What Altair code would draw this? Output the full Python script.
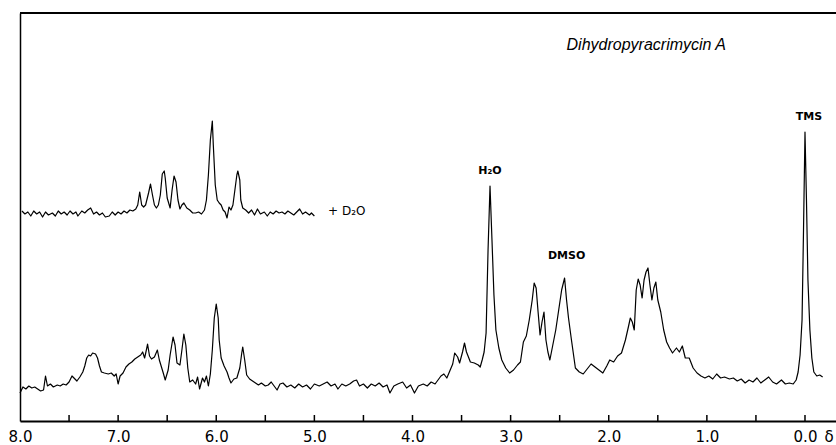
import altair as alt
import pandas as pd

# ---- lower trace (sample in DMSO) : chemical shift (ppm) and signal (arbitrary units)
lower_ppm = [8.00, 7.97, 7.94, 7.91, 7.88, 7.85, 7.82, 7.79, 7.76, 7.74, 7.72, 7.69, 7.66, 7.62, 7.59, 7.56, 7.53, 7.50,
             7.47, 7.45, 7.42, 7.39, 7.36, 7.34, 7.32, 7.30, 7.28, 7.26, 7.23, 7.21, 7.19, 7.17, 7.14, 7.10, 7.07, 7.04,
             7.02, 7.00, 6.98, 6.95, 6.92, 6.89, 6.86, 6.83, 6.80, 6.77, 6.75, 6.73, 6.71, 6.70, 6.68, 6.66, 6.63, 6.60,
             6.58, 6.54, 6.52, 6.49, 6.47, 6.44, 6.42, 6.40, 6.37, 6.35, 6.33, 6.31, 6.29, 6.27, 6.24, 6.21, 6.19, 6.17,
             6.14, 6.12, 6.10, 6.08, 6.06, 6.04, 6.02, 6.00, 5.98, 5.97, 5.95, 5.92, 5.89, 5.87, 5.85, 5.82, 5.79, 5.76,
             5.74, 5.73, 5.71, 5.69, 5.66, 5.63, 5.60, 5.57, 5.54, 5.50, 5.47, 5.44, 5.41, 5.38, 5.35, 5.32, 5.28, 5.24,
             5.20, 5.16, 5.12, 5.08, 5.04, 5.00, 4.95, 4.91, 4.87, 4.83, 4.79, 4.76, 4.72, 4.68, 4.64, 4.60, 4.57, 4.54,
             4.50, 4.46, 4.42, 4.38, 4.34, 4.30, 4.26, 4.23, 4.19, 4.15, 4.10, 4.06, 4.02, 3.98, 3.94, 3.89, 3.85, 3.81,
             3.77, 3.74, 3.71, 3.68, 3.65, 3.62, 3.59, 3.57, 3.54, 3.52, 3.49, 3.47, 3.45, 3.41, 3.37, 3.33, 3.31, 3.29,
             3.27, 3.25, 3.23, 3.21, 3.19, 3.17, 3.15, 3.12, 3.09, 3.05, 3.01, 2.97, 2.93, 2.90, 2.87, 2.84, 2.81, 2.78,
             2.76, 2.74, 2.72, 2.70, 2.68, 2.66, 2.64, 2.62, 2.60, 2.57, 2.54, 2.51, 2.48, 2.45, 2.43, 2.41, 2.38, 2.34,
             2.30, 2.26, 2.22, 2.18, 2.14, 2.10, 2.06, 2.02, 1.99, 1.95, 1.91, 1.87, 1.83, 1.80, 1.78, 1.76, 1.74, 1.72,
             1.70, 1.68, 1.66, 1.64, 1.62, 1.60, 1.58, 1.56, 1.54, 1.52, 1.50, 1.47, 1.44, 1.41, 1.38, 1.35, 1.31, 1.28,
             1.25, 1.22, 1.18, 1.14, 1.10, 1.06, 1.02, 0.98, 0.94, 0.90, 0.86, 0.82, 0.77, 0.73, 0.69, 0.65, 0.61, 0.57,
             0.53, 0.49, 0.45, 0.41, 0.37, 0.33, 0.29, 0.24, 0.20, 0.16, 0.12, 0.09, 0.07, 0.05, 0.03, 0.015, 0.00,
             -0.015, -0.03, -0.05, -0.07, -0.09, -0.12, -0.15, -0.18]
lower_int = [28, 34, 32, 35, 33, 34, 32, 30, 31, 45, 35, 37, 34, 36, 35, 37, 36, 39,
             45, 43, 40, 44, 49, 55, 63, 66, 65, 68, 67, 63, 55, 49, 48, 47, 48, 45,
             47, 37, 45, 48, 54, 57, 59, 62, 64, 66, 69, 63, 72, 77, 65, 62, 64, 71,
             61, 48, 41, 51, 66, 84, 76, 58, 56, 71, 87, 76, 53, 39, 41, 37, 44, 32,
             43, 39, 45, 35, 47, 71, 103, 117, 103, 81, 63, 55, 49, 43, 38, 42, 43, 53,
             68, 74, 61, 46, 42, 40, 38, 36, 38, 35, 36, 39, 35, 31, 37, 38, 34, 36,
             33, 37, 34, 36, 32, 37, 35, 37, 39, 35, 37, 32, 37, 35, 37, 40, 41, 35,
             37, 33, 37, 35, 38, 34, 36, 28, 35, 37, 39, 33, 36, 28, 35, 37, 35, 39,
             37, 41, 45, 47, 43, 50, 57, 68, 64, 58, 69, 78, 69, 59, 58, 56, 54, 61,
             69, 88, 171, 235, 181, 126, 91, 73, 61, 53, 48, 51, 56, 59, 79, 85, 101, 121,
             138, 133, 109, 86, 99, 109, 81, 69, 61, 76, 91, 111, 131, 143, 121, 103, 81, 53,
             49, 47, 52, 57, 54, 51, 48, 55, 61, 59, 65, 68, 81, 94, 103, 99, 91, 131,
             142, 136, 123, 141, 149, 153, 136, 121, 133, 139, 121, 109, 91, 79, 73, 68, 73, 69,
             75, 63, 63, 53, 48, 45, 43, 45, 42, 47, 43, 44, 42, 43, 40, 42, 38, 41,
             39, 43, 38, 41, 44, 39, 37, 41, 37, 38, 37, 41, 49, 66, 101, 191, 289,
             221, 141, 91, 63, 49, 45, 46, 44]

# ---- upper trace (after D2O exchange), offset upward on the same chart
upper_ppm = [7.98, 7.95, 7.92, 7.89, 7.86, 7.83, 7.80, 7.77, 7.74, 7.71, 7.67, 7.64, 7.61, 7.58, 7.55, 7.52, 7.49,
             7.46, 7.43, 7.41, 7.37, 7.34, 7.31, 7.28, 7.25, 7.22, 7.19, 7.16, 7.13, 7.09, 7.06, 7.03, 7.00, 6.97,
             6.94, 6.91, 6.88, 6.85, 6.82, 6.80, 6.78, 6.76, 6.74, 6.72, 6.69, 6.67, 6.65, 6.63, 6.61, 6.59, 6.57,
             6.55, 6.53, 6.52, 6.50, 6.47, 6.45, 6.43, 6.41, 6.39, 6.37, 6.35, 6.33, 6.30, 6.27, 6.24, 6.21, 6.18,
             6.15, 6.12, 6.10, 6.08, 6.06, 6.04, 6.03, 6.01, 5.99, 5.97, 5.95, 5.93, 5.91, 5.89, 5.87, 5.85, 5.83,
             5.81, 5.79, 5.78, 5.76, 5.75, 5.73, 5.70, 5.67, 5.64, 5.61, 5.58, 5.55, 5.51, 5.48, 5.45, 5.42, 5.39,
             5.36, 5.33, 5.30, 5.27, 5.24, 5.21, 5.18, 5.15, 5.12, 5.09, 5.05, 5.03, 5.00]
upper_int = [210, 207, 209, 205, 210, 207, 209, 204, 209, 206, 208, 205, 210, 207, 209, 206, 210,
             207, 209, 205, 210, 208, 211, 213, 207, 209, 206, 208, 204, 205, 209, 206, 209, 207,
             210, 208, 211, 210, 212, 216, 229, 216, 214, 216, 228, 237, 226, 216, 213, 216, 226,
             247, 250, 243, 223, 213, 231, 245, 239, 221, 212, 216, 218, 213, 211, 208, 208, 209,
             207, 211, 221, 246, 281, 300, 276, 236, 221, 218, 216, 211, 209, 203, 214, 211, 216,
             231, 246, 250, 241, 221, 213, 211, 208, 211, 206, 212, 207, 209, 205, 209, 207, 210,
             208, 209, 207, 210, 208, 206, 209, 212, 207, 209, 206, 208, 205]

# ---- axis and annotation text
tick_label_values = [8.0, 7.0, 6.0, 5.0, 4.0, 3.0, 2.0, 1.0, 0.0, -0.24]
minor_ticks = [7.5, 7.0, 6.5, 6.0, 5.5, 5.0, 4.5, 4.0, 3.5, 3.0, 2.5, 2.0, 1.5, 1.0, 0.5, 0.0]
title_text = "Dihydropyracrimycin A"
peak_labels = ["TMS", "H\u2082O", "DMSO"]
peak_label_ppm = [-0.04, 3.21, 2.43]
peak_label_int = [304, 250, 165]
d2o_label = "+ D\u2082O"

X_DOMAIN = [-0.316, 8.0]
Y_DOMAIN = [0, 408]

spec = pd.concat([
    pd.DataFrame({"ppm": lower_ppm, "signal": lower_int, "trace": "DMSO-d6"}),
    pd.DataFrame({"ppm": upper_ppm, "signal": upper_int, "trace": "+D2O"}),
])

xs = alt.Scale(domain=X_DOMAIN, reverse=True, nice=False, zero=False)
ys = alt.Scale(domain=Y_DOMAIN, nice=False, zero=False)

lines = alt.Chart(spec).mark_line(color="black", strokeWidth=1.2, strokeJoin="round").encode(
    x=alt.X("ppm:Q", scale=xs, axis=alt.Axis(
        values=tick_label_values, ticks=False, grid=False, domainColor="black", domainWidth=2,
        labelFontSize=15, labelFont="DejaVu Sans", labelColor="black", labelPadding=8,
        labelFlush=False, labelOverlap=False,
        labelExpr="datum.value < -0.1 ? '\u03b4' : format(datum.value, '.1f')", title=None)),
    y=alt.Y("signal:Q", scale=ys, axis=alt.Axis(
        ticks=False, labels=False, grid=False, domainColor="black", domainWidth=1.5, title=None)),
    detail="trace:N",
    order="ppm_order:Q",
).transform_calculate(ppm_order="-datum.ppm")

tick_df = pd.DataFrame({"ppm": minor_ticks})
ticks = alt.Chart(tick_df).mark_rule(color="black", strokeWidth=1.5).encode(
    x=alt.X("ppm:Q", scale=xs),
    y=alt.value(408),
    y2=alt.value(402),
)

top_border = alt.Chart(pd.DataFrame({"y": [408]})).mark_rule(color="black", strokeWidth=2).encode(
    y=alt.Y("y:Q", scale=ys),
    x=alt.value(0),
    x2=alt.value(816),
)

title = alt.Chart(pd.DataFrame({"ppm": [2.43], "signal": [376], "t": [title_text]})).mark_text(
    align="left", baseline="middle", fontSize=16, fontStyle="italic", font="Liberation Sans", color="black"
).encode(x=alt.X("ppm:Q", scale=xs), y=alt.Y("signal:Q", scale=ys), text="t:N")

labels = alt.Chart(pd.DataFrame({"ppm": peak_label_ppm, "signal": peak_label_int, "t": peak_labels})).mark_text(
    align="center", baseline="middle", fontSize=11, fontWeight="bold", font="DejaVu Sans", color="black"
).encode(x=alt.X("ppm:Q", scale=xs), y=alt.Y("signal:Q", scale=ys), text="t:N")

d2o = alt.Chart(pd.DataFrame({"ppm": [4.86], "signal": [210], "t": [d2o_label]})).mark_text(
    align="left", baseline="middle", fontSize=12, font="DejaVu Sans", color="black"
).encode(x=alt.X("ppm:Q", scale=xs), y=alt.Y("signal:Q", scale=ys), text="t:N")

chart = alt.layer(lines, ticks, top_border, title, labels, d2o).properties(
    width=816, height=408,
    autosize=alt.AutoSizeParams(type="none"),
    padding={"left": 20, "top": 13, "right": 0, "bottom": 24},
    background="white",
).configure_view(stroke=None)

chart.save("out.html", embed_options={"renderer": "svg", "actions": False})
